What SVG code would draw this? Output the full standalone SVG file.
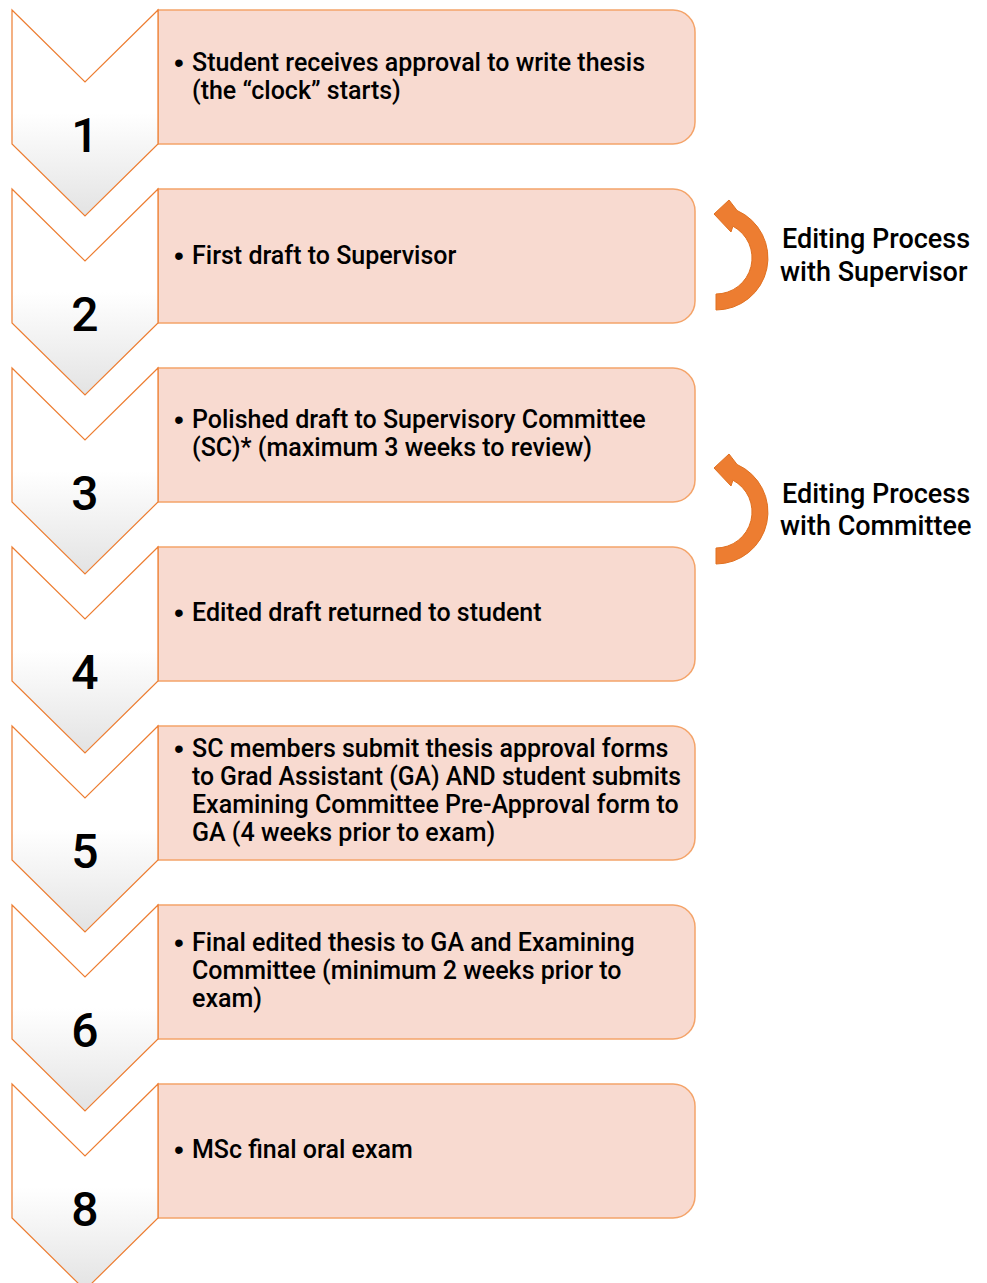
<svg xmlns="http://www.w3.org/2000/svg" width="987" height="1283" viewBox="0 0 987 1283">
<defs>
<linearGradient id="cg" x1="0" y1="0" x2="0" y2="1">
<stop offset="0" stop-color="#FFFFFF"/>
<stop offset="0.5" stop-color="#FFFFFF"/>
<stop offset="1" stop-color="#E3E3E3"/>
</linearGradient>
<style>
.chev{fill:url(#cg);stroke:#ED7D31;stroke-width:1.2}
.box{fill:#F8DAD0;stroke:#F4A46A;stroke-width:1.5}
.num{font-family:Roboto,"Liberation Sans",sans-serif;font-weight:500;font-size:48px;fill:#000;text-anchor:middle}
.t{font-family:Roboto,"Liberation Sans",sans-serif;font-weight:500;font-size:25px;fill:#000}
.b{font-family:"Liberation Sans",sans-serif;font-size:28px;fill:#000}
.lbl{font-family:Roboto,"Liberation Sans",sans-serif;font-weight:500;font-size:27px;fill:#000}
.arr{fill:#ED7D31;stroke:#E07020;stroke-width:1}
</style>
</defs>
<rect width="987" height="1283" fill="#FFFFFF"/>

<g id="step1">
<path class="box" d="M158 10 H673 A22 22 0 0 1 695 32 V122 A22 22 0 0 1 673 144 H158 Z"/>
<path class="chev" d="M12 10 L85 82 L158 10 V144 L85 216 L12 144 Z"/>
<text class="num" x="85" y="152">1</text>
<text class="b" x="174" y="72">•</text>
<text class="t" x="192" y="71">Student receives approval to write thesis</text>
<text class="t" x="192" y="99">(the “clock” starts)</text>
</g>

<g id="step2">
<path class="box" d="M158 189 H673 A22 22 0 0 1 695 211 V301 A22 22 0 0 1 673 323 H158 Z"/>
<path class="chev" d="M12 189 L85 261 L158 189 V323 L85 395 L12 323 Z"/>
<text class="num" x="85" y="331">2</text>
<text class="b" x="174" y="265">•</text>
<text class="t" x="192" y="264">First draft to Supervisor</text>
</g>

<g id="step3">
<path class="box" d="M158 368 H673 A22 22 0 0 1 695 390 V480 A22 22 0 0 1 673 502 H158 Z"/>
<path class="chev" d="M12 368 L85 440 L158 368 V502 L85 574 L12 502 Z"/>
<text class="num" x="85" y="510">3</text>
<text class="b" x="174" y="429">•</text>
<text class="t" x="192" y="428">Polished draft to Supervisory Committee</text>
<text class="t" x="192" y="456">(SC)* (maximum 3 weeks to review)</text>
</g>

<g id="step4">
<path class="box" d="M158 547 H673 A22 22 0 0 1 695 569 V659 A22 22 0 0 1 673 681 H158 Z"/>
<path class="chev" d="M12 547 L85 619 L158 547 V681 L85 753 L12 681 Z"/>
<text class="num" x="85" y="689">4</text>
<text class="b" x="174" y="622">•</text>
<text class="t" x="192" y="621">Edited draft returned to student</text>
</g>

<g id="step5">
<path class="box" d="M158 726 H673 A22 22 0 0 1 695 748 V838 A22 22 0 0 1 673 860 H158 Z"/>
<path class="chev" d="M12 726 L85 798 L158 726 V860 L85 932 L12 860 Z"/>
<text class="num" x="85" y="868">5</text>
<text class="b" x="174" y="758">•</text>
<text class="t" x="192" y="757">SC members submit thesis approval forms</text>
<text class="t" x="192" y="785" textLength="489" lengthAdjust="spacingAndGlyphs">to Grad Assistant (GA) AND student submits</text>
<text class="t" x="192" y="813">Examining Committee Pre-Approval form to</text>
<text class="t" x="192" y="841">GA (4 weeks prior to exam)</text>
</g>

<g id="step6">
<path class="box" d="M158 905 H673 A22 22 0 0 1 695 927 V1017 A22 22 0 0 1 673 1039 H158 Z"/>
<path class="chev" d="M12 905 L85 977 L158 905 V1039 L85 1111 L12 1039 Z"/>
<text class="num" x="85" y="1047">6</text>
<text class="b" x="174" y="952">•</text>
<text class="t" x="192" y="951">Final edited thesis to GA and Examining</text>
<text class="t" x="192" y="979">Committee (minimum 2 weeks prior to</text>
<text class="t" x="192" y="1007">exam)</text>
</g>

<g id="step8">
<path class="box" d="M158 1084 H673 A22 22 0 0 1 695 1106 V1196 A22 22 0 0 1 673 1218 H158 Z"/>
<path class="chev" d="M12 1084 L85 1156 L158 1084 V1218 L85 1290 L12 1218 Z"/>
<text class="num" x="85" y="1226">8</text>
<text class="b" x="174" y="1159">•</text>
<text class="t" x="192" y="1158">MSc final oral exam</text>
</g>

<g id="connectors">
<path class="arr" d="M716 310 A52 52 0 0 0 737.1 210.5 L729 200 L714 214 L731 232 L732.9 226.2 A36 36 0 0 1 716 294 Z"/>
<path class="arr" d="M716 564 A52 52 0 0 0 737.1 464.5 L729 454 L714 468 L731 486 L732.9 480.2 A36 36 0 0 1 716 548 Z"/>
</g>

<g id="label-supervisor">
<text class="lbl" x="782" y="248">Editing Process</text>
<text class="lbl" x="780" y="281">with Supervisor</text>
</g>
<g id="label-committee">
<text class="lbl" x="782" y="503">Editing Process</text>
<text class="lbl" x="780" y="535">with Committee</text>
</g>
</svg>
